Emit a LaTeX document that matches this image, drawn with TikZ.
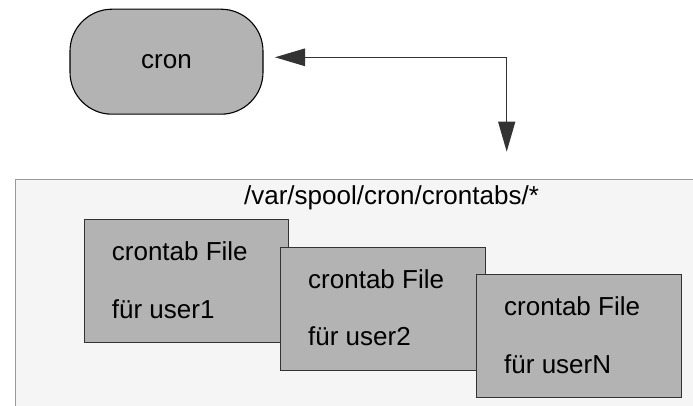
\documentclass[tikz,border=0pt]{standalone}
\usepackage{fontspec}
\setmainfont{Liberation Sans}
\usetikzlibrary{arrows.meta,calc}

\definecolor{boxgray}{HTML}{B3B3B3}
\definecolor{panelfill}{HTML}{F5F5F5}
\definecolor{panelline}{HTML}{9A9A9A}
\definecolor{lineink}{HTML}{333333}

\tikzset{
  txt/.style={font=\fontsize{26}{31}\selectfont, inner sep=0pt, text=black},
  daemon/.style={draw=black, line width=1.1pt, fill=boxgray, rounded corners=42pt,
    minimum width=193pt, minimum height=105pt, inner sep=0pt, txt},
  filebox/.style={draw=lineink, line width=1pt, fill=boxgray,
    minimum width=204.5pt, minimum height=123pt, inner sep=0pt, anchor=north west},
  link/.style={draw=lineink, line width=1.3pt,
    {Triangle[length=30pt,width=17.5pt]}-{Triangle[length=30pt,width=17pt]}},
}

\begin{document}
\begin{tikzpicture}[x=1pt,y=-1pt]
  \useasboundingbox (0,0) rectangle (693,406);

  % spool directory panel (runs past the right and bottom edges)
  \fill[panelfill] (15.5,179.3) rectangle (693,406);
  \draw[panelline, line width=1pt] (15.5,406) -- (15.5,179.3) -- (693,179.3);
  \node[txt, anchor=base] (dir) at (391.5,204.3) {/var/spool/cron/crontabs/*};

  % the cron daemon
  \node[daemon] (cron) at (166.5,61.7) {cron};

  % connector between daemon and spool directory
  \coordinate (ctip) at (275,57.3);
  \coordinate (bend) at (506.7,57.3);
  \coordinate (dtip) at (506.7,151.7);
  \draw[link] (ctip) -- (bend) -- (dtip);

  % one crontab file per user
  \foreach \i/\x/\y/\u in {1/83.7/219.3/user1, 2/280/246.7/user2, 3/476/274/userN}{
    \node[filebox] (f\i) at (\x,\y) {};
    \node[txt, anchor=base west] (f\i a) at ($(f\i.north west)+(28,41.4)$) {crontab File};
    \node[txt, anchor=base west] (f\i b) at ($(f\i.north west)+(28,99.2)$) {für \u};
  }
\end{tikzpicture}
\end{document}
